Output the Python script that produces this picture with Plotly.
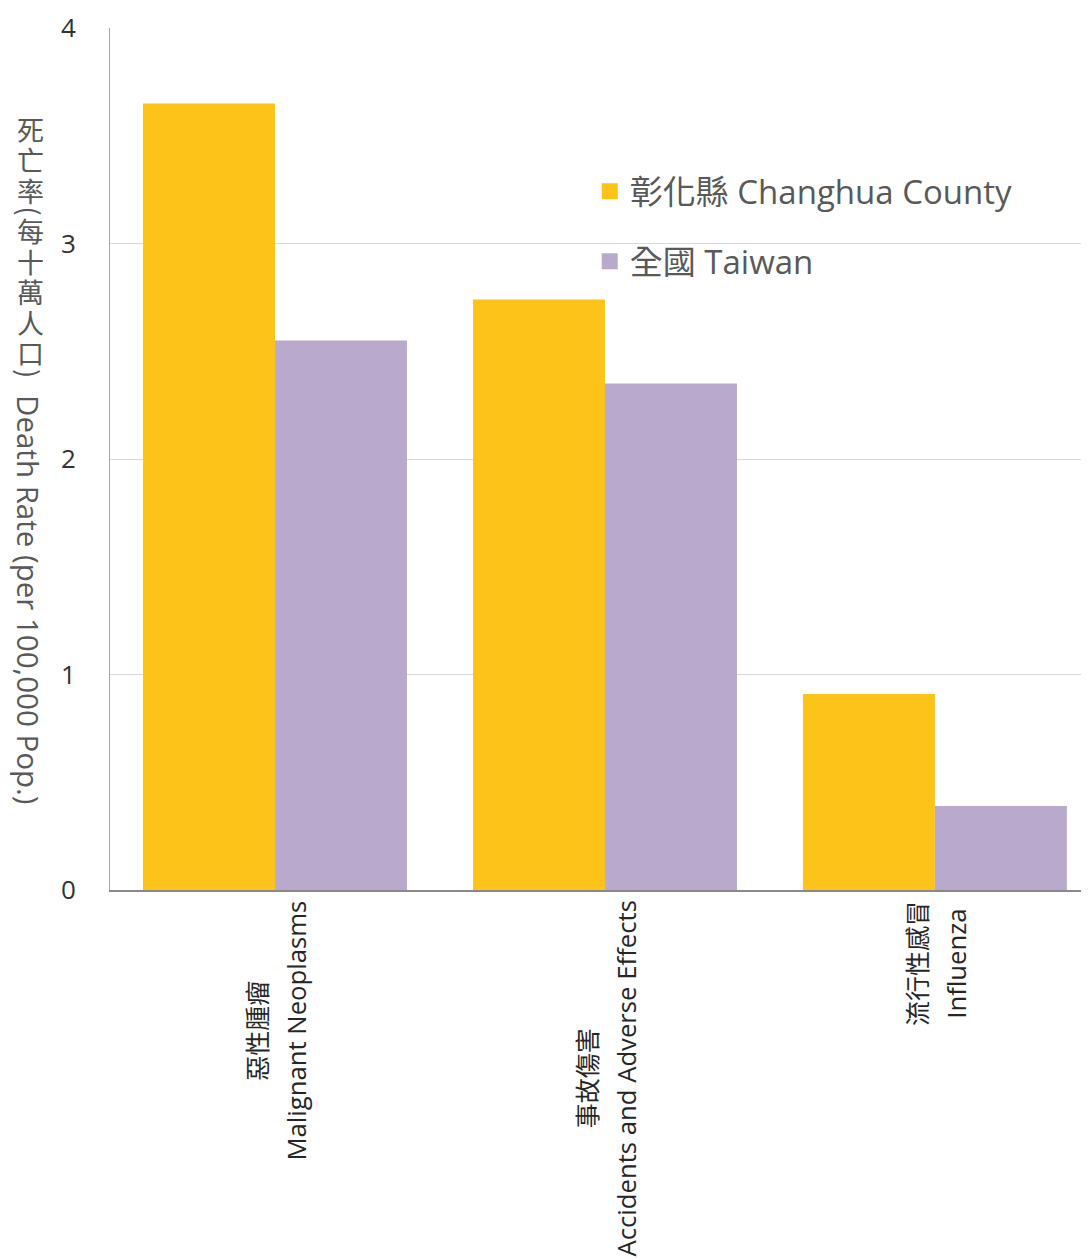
import plotly.graph_objects as go

categories_zh = ["惡性腫瘤", "事故傷害", "流行性感冒"]
categories_en = ["Malignant Neoplasms", "Accidents and Adverse Effects", "Influenza"]
changhua = [3.65, 2.74, 0.91]
taiwan = [2.55, 2.35, 0.39]
series_names = ["彰化縣 Changhua County", "全國 Taiwan"]
series_colors = ["#FDC319", "#B9A9CC"]
y_ticks = [0, 1, 2, 3, 4]
ytitle_zh = ["死", "亡", "率", "(", "每", "十", "萬", "人", "口", ")"]
ytitle_en = "Death Rate (per 100,000 Pop.)"

FONT = "Open Sans, Noto Sans CJK TC, sans-serif"
CJK = "Noto Sans CJK TC, sans-serif"
x_idx = list(range(len(categories_en)))

# plot area in page pixels (page has 8px body margin)
PX0, PX1, PY0, PY1 = 110, 1089, 28, 890


def px_x(px):
    return (px - PX0) / (PX1 - PX0)


def px_y(py):
    return (PY1 - py) / (PY1 - PY0)


fig = go.Figure()
for vals, name, col, grp in [(changhua, series_names[0], series_colors[0], "a"),
                             (taiwan, series_names[1], series_colors[1], "b")]:
    fig.add_trace(go.Bar(x=x_idx, y=vals, name=name,
                         marker=dict(color=col, line=dict(width=0)),
                         legendgroup=grp, showlegend=False))
    # legend-only entry with a larger square swatch
    fig.add_trace(go.Scatter(x=[None], y=[None], mode="markers", name=name,
                             marker=dict(symbol="square", size=16, color=col),
                             legendgroup=grp, showlegend=True))

# category labels (two centred lines, rotated)
for i, (zh, en) in enumerate(zip(categories_zh, categories_en)):
    txt = (f"<span style='font-size:25px'>{zh}</span><br>"
           f"<span style='font-size:25.7px'>{en}</span>")
    fig.add_annotation(x=i, y=-0.010, xref="x", yref="paper", xshift=2,
                       text=txt, showarrow=False,
                       textangle=-90, xanchor="center", yanchor="top",
                       align="center",
                       font=dict(family=FONT, size=30, color="#262626"))

# y-axis title: CJK glyphs upright stacked, brackets and Latin rotated
pos = 114.0
for ch in ytitle_zh:
    adv = 10.0 if ch in "()" else 30.5
    fig.add_annotation(x=px_x(30), y=px_y(pos + adv / 2), xref="paper", yref="paper",
                       text=ch, showarrow=False,
                       textangle=90 if ch in "()" else 0,
                       xanchor="center", yanchor="middle", borderpad=0,
                       font=dict(family=CJK, size=27, color="#595959"))
    pos += adv
fig.add_annotation(x=px_x(29), y=px_y(600), xref="paper", yref="paper",
                   text=ytitle_en, showarrow=False, textangle=90,
                   xanchor="center", yanchor="middle",
                   font=dict(family=FONT, size=29.5, color="#595959"))

fig.update_layout(
    width=1081, height=1251,
    margin=dict(l=102, r=0, t=20, b=369),
    paper_bgcolor="white", plot_bgcolor="white",
    barmode="group", bargap=0.2, bargroupgap=0,
    font=dict(family=FONT, color="#595959"),
    showlegend=True,
    legend=dict(x=0.49, y=0.843, xanchor="left", yanchor="top",
                font=dict(family=FONT, size=33, color="#595959"),
                bgcolor="rgba(0,0,0,0)", tracegroupgap=24,
                itemclick=False, itemsizing="trace"),
    xaxis=dict(range=[-0.5, 2.467], showticklabels=False, ticks="",
               showline=True, linecolor="#898989", linewidth=2,
               showgrid=False, zeroline=False, fixedrange=True),
    yaxis=dict(range=[0, 4], tickvals=y_ticks, ticktext=[str(v) for v in y_ticks],
               showgrid=True, gridcolor="#D9D9D9", gridwidth=1,
               showline=True, linecolor="#A6A6A6", linewidth=1,
               zeroline=False, ticks="", ticklen=0, ticklabelstandoff=28,
               tickfont=dict(family=FONT, size=26, color="#333333"),
               fixedrange=True),
)

fig.write_html("out.html")
